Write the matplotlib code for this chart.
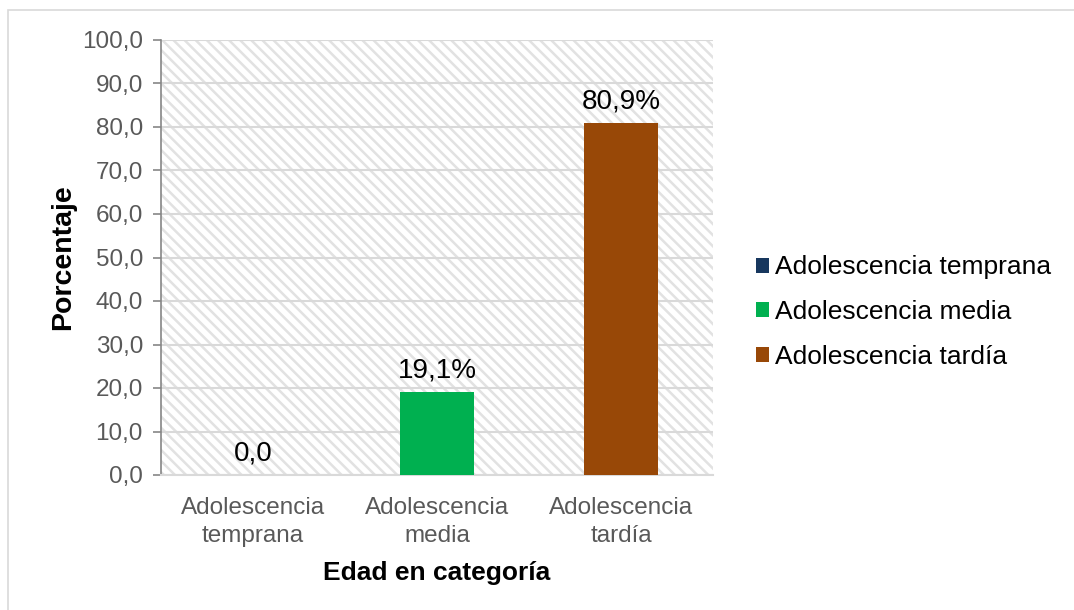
import matplotlib
matplotlib.use("Agg")
import matplotlib.pyplot as plt
from matplotlib.patches import Rectangle, Patch

categories = ["Adolescencia\ntemprana", "Adolescencia\nmedia", "Adolescencia\ntardía"]
series_names = ["Adolescencia temprana", "Adolescencia media", "Adolescencia tardía"]
values = [0.0, 19.1, 80.9]
value_labels = ["0,0", "19,1%", "80,9%"]
colors = ["#17375E", "#00B050", "#984807"]
yticks = [0, 10, 20, 30, 40, 50, 60, 70, 80, 90, 100]
ytick_labels = ["0,0", "10,0", "20,0", "30,0", "40,0", "50,0", "60,0", "70,0", "80,0", "90,0", "100,0"]

plt.rcParams['font.family'] = ['Liberation Sans', 'DejaVu Sans']
plt.rcParams['hatch.color'] = '#E2E2E2'
plt.rcParams['hatch.linewidth'] = 1.8

fig = plt.figure(figsize=(10.74, 6.10), dpi=100)
ax = fig.add_axes([161/1074, 1-475/610, 552/1074, 435/610])

# figure border
fig.patches.append(Rectangle((8/1074, -0.1), 1.2, 1-10/610+0.1, transform=fig.transFigure,
                             fill=False, edgecolor='#D9D9D9', linewidth=1.2))

# hatched background
ax.add_patch(Rectangle((0, 0), 1, 1, transform=ax.transAxes, facecolor='white',
                       edgecolor='#E2E2E2', hatch='\\\\\\', linewidth=0, zorder=0))

x = list(range(len(categories)))
for i in x:
    ax.bar(i, values[i], width=0.4, color=colors[i], zorder=3)
    ax.text(i, values[i] + 2.0, value_labels[i], ha='center', va='bottom',
            fontsize=20, color='black', zorder=4)

ax.set_xlim(-0.5, 2.5)
ax.set_ylim(0, 100)
ax.set_yticks(yticks)
ax.set_yticklabels(ytick_labels, fontsize=17.5, color='#595959')
ax.set_xticks(x)
ax.set_xticklabels(categories, fontsize=17.5, color='#595959', linespacing=1.35)
ax.tick_params(axis='x', length=0, pad=16)
ax.tick_params(axis='y', length=6, width=1.2, color='#868686', pad=7, direction='out')
ax.grid(axis='y', color='#D9D9D9', linewidth=1.5, zorder=1)
ax.set_axisbelow(True)
for s in ['top', 'right']:
    ax.spines[s].set_visible(False)
ax.spines['left'].set_color('#868686')
ax.spines['left'].set_linewidth(1.2)
ax.spines['bottom'].set_color('#D9D9D9')
ax.spines['bottom'].set_linewidth(1.5)

ax.set_ylabel("Porcentaje", fontsize=20.5, fontweight='bold', labelpad=4)
ax.set_xlabel("Edad en categoría", fontsize=19, fontweight='bold', labelpad=10)

handles = [Patch(facecolor=c, edgecolor='none') for c in colors]
fig.legend(handles, series_names, loc='center left', bbox_to_anchor=(745/1074, 1-312/610),
           frameon=False, fontsize=19, handlelength=0.5, handleheight=0.5,
           handletextpad=0.25, labelspacing=0.78, borderaxespad=0)

fig.savefig("out.png", dpi=100)
